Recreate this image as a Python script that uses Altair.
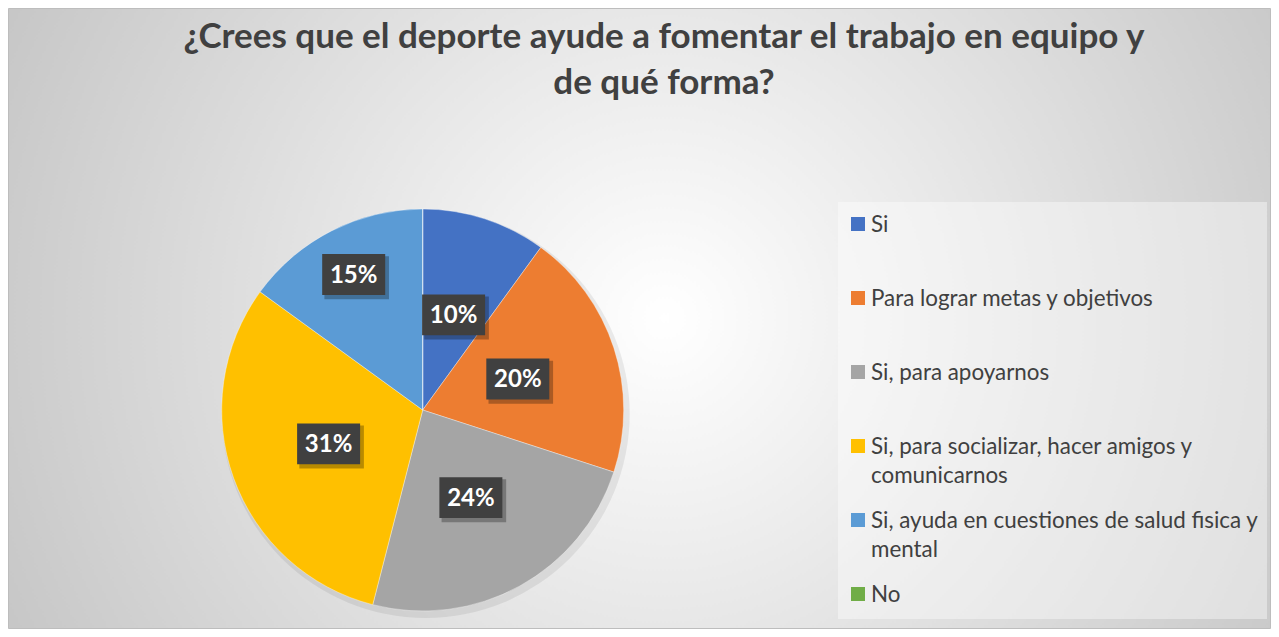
import altair as alt
import pandas as pd

# ---- data ----
categories = [
    "Si",
    "Para lograr metas y objetivos",
    "Si, para apoyarnos",
    "Si, para socializar, hacer amigos y comunicarnos",
    "Si, ayuda en cuestiones de salud fisica y mental",
    "No",
]
legend_labels = [
    "Si",
    "Para lograr metas y objetivos",
    "Si, para apoyarnos",
    "Si, para socializar, hacer amigos y\ncomunicarnos",
    "Si, ayuda en cuestiones de salud fisica y\nmental",
    "No",
]
percentages = [10, 20, 24, 31, 15, 0]
colors = ["#4472C4", "#ED7D31", "#A5A5A5", "#FFC000", "#5B9BD5", "#70AD47"]
title_lines = ["¿Crees que el deporte ayude a fomentar el trabajo en equipo y", "de qué forma?"]

df = pd.DataFrame({
    "idx": list(range(len(categories))),
    "cat": categories,
    "leg": legend_labels,
    "pct": percentages,
})

W, H = 1263, 621
CX, CY, R = 414.7, 402, 201
FONT = "Lato"
TXT = "#404040"

color_scale = alt.Scale(domain=categories, range=colors)
one = alt.Data(values=[{"k": 1}])

bg = alt.Chart(one).mark_rect(
    fill=alt.RadialGradient(
        gradient="radial",
        stops=[alt.GradientStop(color="#ffffff", offset=0),
               alt.GradientStop(color="#c4c4c4", offset=1)],
        x1=0.52, y1=0.5, r1=0, x2=0.52, y2=0.5, r2=0.6,
    ),
    stroke="#bdbdbd", strokeWidth=1,
).encode(x=alt.value(0.5), x2=alt.value(W - 0.5), y=alt.value(0.5), y2=alt.value(H - 0.5))

title = alt.Chart(one).mark_text(
    font=FONT, fontWeight="bold", fontSize=35, color=TXT, align="center",
    baseline="alphabetic", lineHeight=46,
).encode(x=alt.value(656), y=alt.value(40), text=alt.value(title_lines))

pie_shadow = alt.Chart(one).mark_arc(
    theta=0, theta2=6.2832, outerRadius=R + 3, fill="#000000", opacity=0.07
).encode(x=alt.value(CX + 3), y=alt.value(CY + 4))

base = alt.Chart(df)

pie = base.mark_arc(outerRadius=R, stroke="#ffffff", strokeWidth=0.6, strokeOpacity=0.6).encode(
    theta=alt.Theta("pct:Q", stack=True),
    color=alt.Color("cat:N", scale=color_scale, legend=None),
    order=alt.Order("idx:Q"),
    x=alt.value(CX), y=alt.value(CY),
)

lab = base.transform_window(
    cum="sum(pct)", sort=[alt.SortField("idx")], frame=[None, 0]
).transform_joinaggregate(
    total="sum(pct)"
).transform_filter(
    "datum.pct > 0"
).transform_calculate(
    mid="2*PI*(datum.cum - datum.pct/2)/datum.total",
    lr="datum.cat == 'Si, ayuda en cuestiones de salud fisica y mental' ? 152 : 100",
    lx=f"{CX} + datum.lr*sin(datum.mid)",
    ly=f"{CY} - datum.lr*cos(datum.mid)",
    lbl="datum.pct + '%'",
)

box_path = "M-1,-0.65L1,-0.65L1,0.65L-1,0.65Z"
shadow_path = "M-0.93,-0.58L1.12,-0.58L1.12,0.78L-0.93,0.78Z"
pos = dict(x=alt.X("lx:Q", scale=None, axis=None), y=alt.Y("ly:Q", scale=None, axis=None))

lab_shadow = lab.mark_point(shape=shadow_path, filled=True, size=3969, fill="#000000",
                            opacity=0.28, strokeWidth=0).encode(**pos)
lab_box = lab.mark_point(shape=box_path, filled=True, size=3969, fill="#404040",
                         opacity=1, strokeWidth=0).encode(**pos)
lab_text = lab.mark_text(font=FONT, fontWeight="bold", fontSize=24, color="#ffffff",
                         align="center", baseline="middle", dy=1).encode(text="lbl:N", **pos)

leg_box = alt.Chart(one).mark_rect(fill="#ffffff", opacity=0.4).encode(
    x=alt.value(830), x2=alt.value(1259), y=alt.value(194), y2=alt.value(611)
)
leg_y = alt.Y("cat:N", sort=categories,
              scale=alt.Scale(type="point", domain=categories, range=[216, 586], padding=0),
              axis=None)
leg_sq = base.mark_square(size=196, opacity=1).encode(
    x=alt.value(850), y=leg_y,
    color=alt.Color("cat:N", scale=color_scale, legend=None),
)
leg_txt = base.mark_text(font=FONT, fontSize=22.4, color=TXT, align="left",
                         baseline="alphabetic", dy=8, lineBreak="\n", lineHeight=29).encode(
    x=alt.value(863), y=leg_y, text="leg:N"
)

chart = alt.layer(
    bg, title, pie_shadow, pie, lab_shadow, lab_box, lab_text, leg_box, leg_sq, leg_txt
).resolve_scale(
    x="independent", y="independent", color="shared"
).properties(
    width=W, height=H, padding=0, autosize=alt.AutoSizeParams(type="none")
).configure_view(strokeWidth=0)

chart.save("out.html", embed_options={"renderer": "svg", "actions": False})
